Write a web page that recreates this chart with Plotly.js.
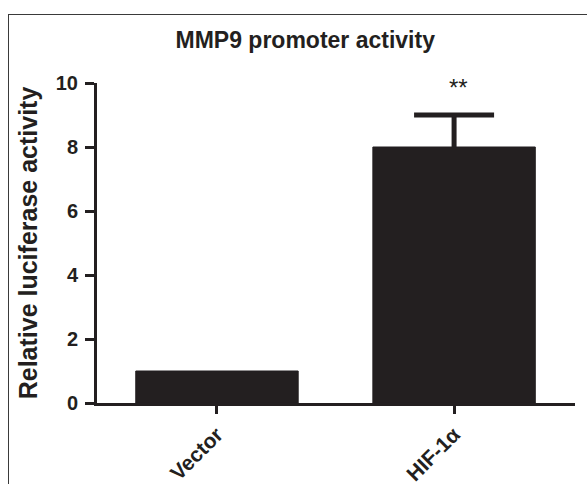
<!DOCTYPE html>
<html><head><meta charset="utf-8">
<script src="https://cdn.plot.ly/plotly-3.0.1.min.js"></script>
<style>
html,body{margin:0;padding:0;background:#fff;}
#wrap{position:relative;width:587px;height:484px;overflow:hidden;}
#frame{position:absolute;left:8px;top:14px;width:600px;height:500px;border:1.5px solid #3a3a3a;box-sizing:border-box;pointer-events:none;z-index:5;}
#chart{position:absolute;left:0;top:0;width:587px;height:484px;}
</style></head>
<body><div id="wrap"><div id="chart"></div><div id="frame"></div></div>
<script>
const categories = ["Vector", "HIF-1\u03b1"];
const values = [1.0, 8.0];
const errorsPlus = [0, 1.0];
const significance = ["", "**"];
const yTicks = [0, 2, 4, 6, 8, 10];
const dark = "#231f20";
const font = "Liberation Sans, Arial, sans-serif";

const barTrace = {
  type: "bar", x: categories, y: values, width: 0.685,
  marker: {color: dark, line: {color: dark, width: 1}},
  hoverinfo: "none"
};
const errIdx = categories.map((c, i) => i).filter(i => errorsPlus[i] > 0);
// stem of the error bar (no caps)
const stemTrace = {
  type: "scatter", mode: "markers", x: errIdx.map(i => categories[i]), y: errIdx.map(i => values[i]),
  marker: {size: 1, opacity: 0},
  error_y: {type: "data", array: errIdx.map(i => errorsPlus[i]), arrayminus: errIdx.map(() => 0), symmetric: false, color: dark, thickness: 5, width: 0},
  hoverinfo: "none"
};
// cap at the top of the error bar
const capTrace = {
  type: "scatter", mode: "markers", x: errIdx.map(i => categories[i]), y: errIdx.map(i => values[i] + errorsPlus[i]),
  marker: {size: 1, opacity: 0},
  error_y: {type: "data", array: errIdx.map(() => 0), color: dark, thickness: 5, width: 40},
  hoverinfo: "none"
};
const annotations = categories.map((c, i) => ({
  x: c, y: values[i] + errorsPlus[i], yshift: 12, xshift: 4, yanchor: "bottom", text: significance[i], showarrow: false,
  font: {family: font, size: 24, color: dark}
})).filter(a => a.text);

const layout = {
  width: 587, height: 484,
  margin: {l: 97, r: 12, t: 83, b: 81},
  paper_bgcolor: "#fff", plot_bgcolor: "#fff",
  showlegend: false,
  title: {text: "<b>MMP9 promoter activity</b>", x: 0.52, xanchor: "center", y: 0.918, yanchor: "middle", font: {family: font, size: 23, color: dark}},
  xaxis: {
    range: [-0.506, 1.51], showline: true, linewidth: 3, linecolor: dark, zeroline: false, showgrid: false,
    ticks: "outside", ticklen: 8, tickwidth: 3, tickcolor: dark, tickangle: -45,
    tickfont: {family: font, size: 21, color: dark, weight: "bold"}
  },
  yaxis: {
    range: [0, 10], tickvals: yTicks, showline: true, linewidth: 3, linecolor: dark, zeroline: false, showgrid: false,
    ticks: "outside", ticklen: 9, tickwidth: 3, tickcolor: dark, ticklabelstandoff: 3,
    tickfont: {family: font, size: 20, color: dark, weight: "bold"},
    title: {text: "<b>Relative luciferase activity</b>", standoff: 12, font: {family: font, size: 25, color: dark}}
  },
  annotations: annotations
};
Plotly.newPlot("chart", [barTrace, stemTrace, capTrace], layout, {staticPlot: true, displayModeBar: false});
</script></body></html>
